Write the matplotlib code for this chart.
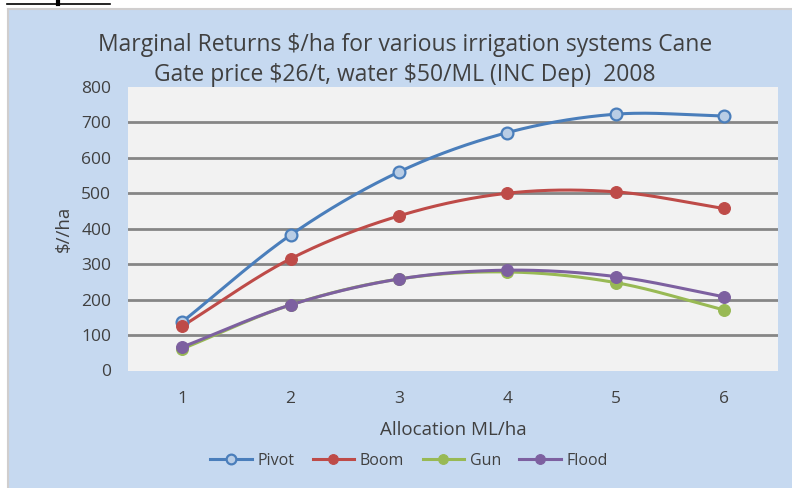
import numpy as np
import matplotlib
matplotlib.use("Agg")
import matplotlib.pyplot as plt
from matplotlib.patches import Rectangle
from matplotlib.lines import Line2D

allocation = [1, 2, 3, 4, 5, 6]
pivot = [137, 382, 560, 671, 723, 718]
boom = [125, 315, 436, 500, 504, 457]
gun = [61, 185, 258, 278, 248, 171]
flood = [66, 185, 258, 283, 265, 208]
series_names = ["Pivot", "Boom", "Gun", "Flood"]
y_ticks = [0, 100, 200, 300, 400, 500, 600, 700, 800]
title_lines = ["Marginal Returns $/ha for various irrigation systems Cane",
               "Gate price $26/t, water $50/ML (INC Dep)  2008"]

plt.rcParams['font.family'] = ['Open Sans', 'DejaVu Sans']
plt.rcParams['text.parse_math'] = False

W, H = 792, 488
fig = plt.figure(figsize=(W / 100, H / 100), dpi=100, facecolor='white')

def fx(px):
    return px / W

def fy(py):
    return 1 - py / H

# chart background
fig.patches.append(Rectangle((fx(8), 0), 1 - fx(8), fy(9), transform=fig.transFigure,
                             facecolor='#C6D9F0', edgecolor='none', zorder=-10))
fig.add_artist(Line2D([fx(7.5), fx(7.5)], [0, fy(8.5)], color='#D0CECE', lw=1.5))
fig.add_artist(Line2D([fx(7.5), 1], [fy(8.5), fy(8.5)], color='#D0CECE', lw=1.5))
# fragment of underlined text at the top
fig.add_artist(Line2D([fx(7), fx(110)], [fy(3.5), fy(3.5)], color='black', lw=1.2))
fig.add_artist(Line2D([fx(58), fx(58)], [fy(0), fy(4)], color='black', lw=3))

ax = fig.add_axes([fx(128), fy(370.5), fx(778) - fx(128), fy(86.9) - fy(370.5)])
ax.set_facecolor('#F2F2F2')
for s in ax.spines.values():
    s.set_visible(False)

def smooth(xs, ys, n=30):
    pts = np.column_stack([xs, ys]).astype(float)
    P = np.vstack([pts[0] * 2 - pts[1], pts, pts[-1] * 2 - pts[-2]])
    out = []
    for i in range(1, len(P) - 2):
        p0, p1, p2, p3 = P[i - 1], P[i], P[i + 1], P[i + 2]
        t = np.linspace(0, 1, n)[:, None]
        seg = 0.5 * ((2 * p1) + (-p0 + p2) * t + (2 * p0 - 5 * p1 + 4 * p2 - p3) * t ** 2
                     + (-p0 + 3 * p1 - 3 * p2 + p3) * t ** 3)
        out.append(seg if i == len(P) - 3 else seg[:-1])
    out = np.vstack(out)
    return out[:, 0], out[:, 1]

styles = [
    (pivot, '#4A7EBB', '#B9CDE5'),
    (boom, '#BE4B48', '#BE4B48'),
    (gun, '#98B954', '#98B954'),
    (flood, '#7D60A0', '#7D60A0'),
]
handles = []
for (vals, col, face), name in zip(styles, series_names):
    sx, sy = smooth(allocation, vals)
    ax.plot(sx, sy, color=col, lw=2.2, zorder=3, solid_capstyle='round')
    ax.plot(allocation, vals, ls='none', marker='o', ms=8.5, mfc=face, mec=col,
            mew=1.6 if name == 'Pivot' else 0.8, zorder=4)
    handles.append(Line2D([], [], color=col, lw=2.2, marker='o', ms=7, mfc=face, mec=col,
                          mew=1.6 if name == 'Pivot' else 0.8))

ax.set_xlim(0.5, 6.5)
ax.set_ylim(0, 800)
ax.set_xticks(allocation)
ax.set_yticks(y_ticks)
for v in y_ticks[1:-1]:
    ax.axhline(v, color='#868686', lw=2, zorder=1)
ax.tick_params(length=0, labelsize=12.5, colors='#404040')
ax.tick_params(axis='y', pad=12)
ax.tick_params(axis='x', pad=15)
ax.set_xlabel('Allocation ML/ha', fontsize=13.5, color='#404040', labelpad=10)
ax.set_ylabel('$//ha', fontsize=13.5, color='#404040', labelpad=6)

fig.text(fx(405), fy(45), title_lines[0], ha='center', va='center', fontsize=16.5,
         color='#404040')
fig.text(fx(405), fy(75), title_lines[1], ha='center', va='center', fontsize=16.5,
         color='#404040')

fig.legend(handles, series_names, loc='center', bbox_to_anchor=(fx(409), fy(461)),
           ncol=4, frameon=False, fontsize=11.5, labelcolor='#404040',
           handlelength=2.6, columnspacing=1.15, handletextpad=0.35)

fig.savefig('out.png', dpi=100, facecolor='white')
